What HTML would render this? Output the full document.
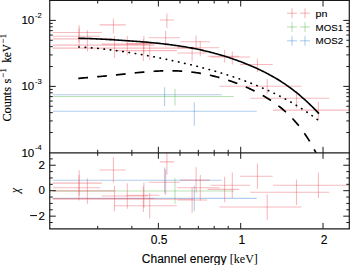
<!DOCTYPE html>
<html><head><meta charset="utf-8"><style>
html,body{margin:0;padding:0;background:#fff;}
body{width:350px;height:265px;overflow:hidden;position:relative;}
svg{position:absolute;left:0;top:0;}
.t{font-family:"Liberation Sans",sans-serif;fill:#000;stroke:#000;stroke-width:0.12px;}
.s{font-family:"Liberation Serif",serif;fill:#000;stroke:none;}
</style></head><body>
<svg width="350" height="265" viewBox="0 0 350 265">
<defs><clipPath id="ct"><rect x="49.75" y="0.5" width="299.55" height="152.3"/></clipPath><clipPath id="cb"><rect x="49.75" y="152.8" width="299.55" height="76.1"/></clipPath></defs>
<g clip-path="url(#ct)" stroke-width="1.1"><line x1="52.80" y1="94.80" x2="221.70" y2="94.80" stroke="#3c82d2" stroke-opacity="0.4"/><line x1="164.60" y1="87.20" x2="164.60" y2="106.00" stroke="#3c82d2" stroke-opacity="0.4"/><line x1="52.80" y1="96.50" x2="233.80" y2="96.50" stroke="#50b446" stroke-opacity="0.4"/><line x1="175.00" y1="89.10" x2="175.00" y2="105.50" stroke="#50b446" stroke-opacity="0.4"/><line x1="52.80" y1="111.30" x2="256.70" y2="111.30" stroke="#3c82d2" stroke-opacity="0.4"/><line x1="194.30" y1="102.30" x2="194.30" y2="125.70" stroke="#3c82d2" stroke-opacity="0.4"/><line x1="52.70" y1="32.50" x2="101.80" y2="32.50" stroke="#e8505a" stroke-opacity="0.4"/><line x1="79.20" y1="25.20" x2="79.20" y2="42.30" stroke="#e8505a" stroke-opacity="0.4"/><line x1="52.70" y1="36.30" x2="99.90" y2="36.30" stroke="#e8505a" stroke-opacity="0.4"/><line x1="79.00" y1="28.40" x2="79.00" y2="47.20" stroke="#e8505a" stroke-opacity="0.4"/><line x1="52.70" y1="38.90" x2="114.50" y2="38.90" stroke="#e8505a" stroke-opacity="0.4"/><line x1="87.40" y1="30.20" x2="87.40" y2="51.50" stroke="#e8505a" stroke-opacity="0.4"/><line x1="99.60" y1="24.90" x2="125.70" y2="24.90" stroke="#e8505a" stroke-opacity="0.4"/><line x1="113.40" y1="18.50" x2="113.40" y2="33.40" stroke="#e8505a" stroke-opacity="0.4"/><line x1="52.70" y1="45.10" x2="154.50" y2="45.10" stroke="#e8505a" stroke-opacity="0.4"/><line x1="114.50" y1="36.00" x2="114.50" y2="58.10" stroke="#e8505a" stroke-opacity="0.4"/><line x1="101.80" y1="44.10" x2="148.00" y2="44.10" stroke="#e8505a" stroke-opacity="0.4"/><line x1="127.30" y1="36.00" x2="127.30" y2="55.30" stroke="#e8505a" stroke-opacity="0.4"/><line x1="126.00" y1="43.60" x2="159.50" y2="43.60" stroke="#e8505a" stroke-opacity="0.4"/><line x1="143.90" y1="36.00" x2="143.90" y2="54.00" stroke="#e8505a" stroke-opacity="0.4"/><line x1="52.70" y1="48.10" x2="193.60" y2="48.10" stroke="#e8505a" stroke-opacity="0.4"/><line x1="143.40" y1="39.30" x2="143.40" y2="60.90" stroke="#e8505a" stroke-opacity="0.4"/><line x1="114.50" y1="50.60" x2="176.90" y2="50.60" stroke="#e8505a" stroke-opacity="0.4"/><line x1="149.70" y1="43.40" x2="149.70" y2="60.20" stroke="#e8505a" stroke-opacity="0.4"/><line x1="159.80" y1="20.00" x2="173.90" y2="20.00" stroke="#e8505a" stroke-opacity="0.4"/><line x1="166.90" y1="13.60" x2="166.90" y2="28.10" stroke="#e8505a" stroke-opacity="0.4"/><line x1="148.80" y1="37.70" x2="179.90" y2="37.70" stroke="#e8505a" stroke-opacity="0.4"/><line x1="165.60" y1="31.10" x2="165.60" y2="46.60" stroke="#e8505a" stroke-opacity="0.4"/><line x1="180.30" y1="41.70" x2="209.90" y2="41.70" stroke="#e8505a" stroke-opacity="0.4"/><line x1="196.10" y1="35.50" x2="196.10" y2="49.40" stroke="#e8505a" stroke-opacity="0.4"/><line x1="177.30" y1="47.80" x2="219.40" y2="47.80" stroke="#e8505a" stroke-opacity="0.4"/><line x1="200.30" y1="41.00" x2="200.30" y2="56.30" stroke="#e8505a" stroke-opacity="0.4"/><line x1="177.50" y1="53.00" x2="207.20" y2="53.00" stroke="#e8505a" stroke-opacity="0.4"/><line x1="192.10" y1="46.60" x2="192.10" y2="61.30" stroke="#e8505a" stroke-opacity="0.4"/><line x1="207.50" y1="56.20" x2="239.10" y2="56.20" stroke="#e8505a" stroke-opacity="0.4"/><line x1="224.60" y1="50.10" x2="224.60" y2="62.40" stroke="#e8505a" stroke-opacity="0.4"/><line x1="210.70" y1="57.00" x2="250.30" y2="57.00" stroke="#e8505a" stroke-opacity="0.4"/><line x1="232.30" y1="51.30" x2="232.30" y2="64.50" stroke="#e8505a" stroke-opacity="0.4"/><line x1="240.10" y1="64.50" x2="272.70" y2="64.50" stroke="#e8505a" stroke-opacity="0.4"/><line x1="257.40" y1="58.40" x2="257.40" y2="72.10" stroke="#e8505a" stroke-opacity="0.4"/><line x1="219.40" y1="86.20" x2="301.20" y2="86.20" stroke="#e8505a" stroke-opacity="0.4"/><line x1="267.20" y1="79.00" x2="267.20" y2="94.10" stroke="#e8505a" stroke-opacity="0.4"/><line x1="250.30" y1="98.20" x2="329.30" y2="98.20" stroke="#e8505a" stroke-opacity="0.4"/><line x1="296.50" y1="91.00" x2="296.50" y2="108.30" stroke="#e8505a" stroke-opacity="0.4"/><line x1="273.00" y1="110.10" x2="349.00" y2="110.10" stroke="#e8505a" stroke-opacity="0.4"/><line x1="318.40" y1="102.10" x2="318.40" y2="120.40" stroke="#e8505a" stroke-opacity="0.4"/></g><g clip-path="url(#cb)" stroke-width="1.1"><line x1="52.80" y1="180.30" x2="221.70" y2="180.30" stroke="#3c82d2" stroke-opacity="0.4"/><line x1="164.60" y1="167.57" x2="164.60" y2="193.03" stroke="#3c82d2" stroke-opacity="0.4"/><line x1="52.80" y1="191.00" x2="233.80" y2="191.00" stroke="#50b446" stroke-opacity="0.4"/><line x1="175.00" y1="178.27" x2="175.00" y2="203.73" stroke="#50b446" stroke-opacity="0.4"/><line x1="52.80" y1="198.40" x2="256.70" y2="198.40" stroke="#3c82d2" stroke-opacity="0.4"/><line x1="194.30" y1="185.67" x2="194.30" y2="211.13" stroke="#3c82d2" stroke-opacity="0.4"/><line x1="52.70" y1="183.10" x2="101.80" y2="183.10" stroke="#e8505a" stroke-opacity="0.4"/><line x1="79.20" y1="170.37" x2="79.20" y2="195.83" stroke="#e8505a" stroke-opacity="0.4"/><line x1="52.70" y1="187.80" x2="99.90" y2="187.80" stroke="#e8505a" stroke-opacity="0.4"/><line x1="79.00" y1="175.07" x2="79.00" y2="200.53" stroke="#e8505a" stroke-opacity="0.4"/><line x1="52.70" y1="190.90" x2="114.50" y2="190.90" stroke="#e8505a" stroke-opacity="0.4"/><line x1="87.40" y1="178.17" x2="87.40" y2="203.63" stroke="#e8505a" stroke-opacity="0.4"/><line x1="99.60" y1="170.00" x2="125.70" y2="170.00" stroke="#e8505a" stroke-opacity="0.4"/><line x1="113.40" y1="157.27" x2="113.40" y2="182.73" stroke="#e8505a" stroke-opacity="0.4"/><line x1="52.70" y1="198.50" x2="154.50" y2="198.50" stroke="#e8505a" stroke-opacity="0.4"/><line x1="114.50" y1="185.77" x2="114.50" y2="211.23" stroke="#e8505a" stroke-opacity="0.4"/><line x1="101.80" y1="196.00" x2="148.00" y2="196.00" stroke="#e8505a" stroke-opacity="0.4"/><line x1="127.30" y1="183.27" x2="127.30" y2="208.73" stroke="#e8505a" stroke-opacity="0.4"/><line x1="126.00" y1="195.30" x2="159.50" y2="195.30" stroke="#e8505a" stroke-opacity="0.4"/><line x1="143.90" y1="182.57" x2="143.90" y2="208.03" stroke="#e8505a" stroke-opacity="0.4"/><line x1="52.70" y1="199.20" x2="193.60" y2="199.20" stroke="#e8505a" stroke-opacity="0.4"/><line x1="143.40" y1="186.47" x2="143.40" y2="211.93" stroke="#e8505a" stroke-opacity="0.4"/><line x1="114.50" y1="205.70" x2="176.90" y2="205.70" stroke="#e8505a" stroke-opacity="0.4"/><line x1="149.70" y1="192.97" x2="149.70" y2="218.43" stroke="#e8505a" stroke-opacity="0.4"/><line x1="159.80" y1="161.90" x2="173.90" y2="161.90" stroke="#e8505a" stroke-opacity="0.4"/><line x1="166.90" y1="149.17" x2="166.90" y2="174.63" stroke="#e8505a" stroke-opacity="0.4"/><line x1="148.80" y1="182.30" x2="179.90" y2="182.30" stroke="#e8505a" stroke-opacity="0.4"/><line x1="165.60" y1="169.57" x2="165.60" y2="195.03" stroke="#e8505a" stroke-opacity="0.4"/><line x1="180.30" y1="180.10" x2="209.90" y2="180.10" stroke="#e8505a" stroke-opacity="0.4"/><line x1="196.10" y1="167.37" x2="196.10" y2="192.83" stroke="#e8505a" stroke-opacity="0.4"/><line x1="177.30" y1="187.80" x2="219.40" y2="187.80" stroke="#e8505a" stroke-opacity="0.4"/><line x1="200.30" y1="175.07" x2="200.30" y2="200.53" stroke="#e8505a" stroke-opacity="0.4"/><line x1="177.50" y1="200.00" x2="207.20" y2="200.00" stroke="#e8505a" stroke-opacity="0.4"/><line x1="192.10" y1="187.27" x2="192.10" y2="212.73" stroke="#e8505a" stroke-opacity="0.4"/><line x1="207.50" y1="189.40" x2="239.10" y2="189.40" stroke="#e8505a" stroke-opacity="0.4"/><line x1="224.60" y1="176.67" x2="224.60" y2="202.13" stroke="#e8505a" stroke-opacity="0.4"/><line x1="210.70" y1="185.20" x2="250.30" y2="185.20" stroke="#e8505a" stroke-opacity="0.4"/><line x1="232.30" y1="172.47" x2="232.30" y2="197.93" stroke="#e8505a" stroke-opacity="0.4"/><line x1="240.10" y1="176.30" x2="272.70" y2="176.30" stroke="#e8505a" stroke-opacity="0.4"/><line x1="257.40" y1="163.57" x2="257.40" y2="189.03" stroke="#e8505a" stroke-opacity="0.4"/><line x1="219.40" y1="207.00" x2="301.20" y2="207.00" stroke="#e8505a" stroke-opacity="0.4"/><line x1="267.20" y1="194.27" x2="267.20" y2="219.73" stroke="#e8505a" stroke-opacity="0.4"/><line x1="250.30" y1="192.20" x2="329.30" y2="192.20" stroke="#e8505a" stroke-opacity="0.4"/><line x1="296.50" y1="179.47" x2="296.50" y2="204.93" stroke="#e8505a" stroke-opacity="0.4"/><line x1="273.00" y1="185.30" x2="349.00" y2="185.30" stroke="#e8505a" stroke-opacity="0.4"/><line x1="318.40" y1="172.57" x2="318.40" y2="198.03" stroke="#e8505a" stroke-opacity="0.4"/></g>
<g clip-path="url(#ct)"><path d="M78.30,38.31 L79.51,38.32 L80.72,38.34 L81.93,38.36 L83.14,38.39 L84.35,38.42 L85.56,38.45 L86.77,38.48 L87.98,38.52 L89.19,38.56 L90.40,38.60 L91.61,38.65 L92.81,38.71 L94.02,38.76 L95.23,38.81 L96.44,38.87 L97.65,38.93 L98.86,38.99 L100.07,39.05 L101.28,39.12 L102.49,39.18 L103.70,39.25 L104.91,39.32 L106.12,39.39 L107.33,39.46 L108.54,39.53 L109.75,39.60 L110.96,39.67 L112.17,39.74 L113.38,39.82 L114.59,39.89 L115.80,39.97 L117.01,40.05 L118.22,40.12 L119.42,40.20 L120.63,40.28 L121.84,40.36 L123.05,40.44 L124.26,40.52 L125.47,40.60 L126.68,40.69 L127.89,40.77 L129.10,40.86 L130.31,40.94 L131.52,41.03 L132.73,41.12 L133.94,41.21 L135.15,41.30 L136.36,41.39 L137.57,41.48 L138.78,41.57 L139.99,41.67 L141.20,41.76 L142.41,41.86 L143.62,41.96 L144.83,42.06 L146.03,42.16 L147.24,42.27 L148.45,42.37 L149.66,42.48 L150.87,42.59 L152.08,42.70 L153.29,42.82 L154.50,42.93 L155.71,43.05 L156.92,43.17 L158.13,43.30 L159.34,43.42 L160.55,43.55 L161.76,43.68 L162.97,43.82 L164.18,43.96 L165.39,44.10 L166.60,44.24 L167.81,44.39 L169.02,44.54 L170.23,44.69 L171.44,44.85 L172.64,45.01 L173.85,45.18 L175.06,45.35 L176.27,45.52 L177.48,45.70 L178.69,45.88 L179.90,46.06 L181.11,46.25 L182.32,46.44 L183.53,46.63 L184.74,46.83 L185.95,47.03 L187.16,47.24 L188.37,47.45 L189.58,47.67 L190.79,47.89 L192.00,48.12 L193.21,48.35 L194.42,48.59 L195.63,48.83 L196.84,49.07 L198.05,49.32 L199.25,49.58 L200.46,49.84 L201.67,50.11 L202.88,50.38 L204.09,50.66 L205.30,50.94 L206.51,51.23 L207.72,51.52 L208.93,51.82 L210.14,52.13 L211.35,52.44 L212.56,52.75 L213.77,53.07 L214.98,53.40 L216.19,53.73 L217.40,54.07 L218.61,54.41 L219.82,54.76 L221.03,55.11 L222.24,55.47 L223.45,55.84 L224.66,56.21 L225.86,56.59 L227.07,56.97 L228.28,57.36 L229.49,57.76 L230.70,58.16 L231.91,58.57 L233.12,58.98 L234.33,59.40 L235.54,59.82 L236.75,60.26 L237.96,60.69 L239.17,61.14 L240.38,61.59 L241.59,62.05 L242.80,62.51 L244.01,62.98 L245.22,63.46 L246.43,63.94 L247.64,64.44 L248.85,64.94 L250.06,65.44 L251.27,65.96 L252.47,66.48 L253.68,67.01 L254.89,67.54 L256.10,68.09 L257.31,68.64 L258.52,69.21 L259.73,69.78 L260.94,70.36 L262.15,70.95 L263.36,71.54 L264.57,72.15 L265.78,72.77 L266.99,73.40 L268.20,74.04 L269.41,74.68 L270.62,75.34 L271.83,76.01 L273.04,76.70 L274.25,77.39 L275.46,78.10 L276.67,78.81 L277.88,79.55 L279.08,80.29 L280.29,81.05 L281.50,81.82 L282.71,82.60 L283.92,83.40 L285.13,84.21 L286.34,85.04 L287.55,85.88 L288.76,86.74 L289.97,87.62 L291.18,88.51 L292.39,89.42 L293.60,90.34 L294.81,91.28 L296.02,92.24 L297.23,93.21 L298.44,94.20 L299.65,95.21 L300.86,96.24 L302.07,97.28 L303.28,98.34 L304.49,99.42 L305.69,100.52 L306.90,101.63 L308.11,102.76 L309.32,103.91 L310.53,105.07 L311.74,106.25 L312.95,107.44 L314.16,108.65 L315.37,109.87 L316.58,111.11 L317.79,112.36 L319.00,113.62" fill="none" stroke="#000" stroke-width="1.6"/><path d="M78.30,46.97 L79.51,47.03 L80.72,47.09 L81.93,47.16 L83.14,47.23 L84.35,47.31 L85.56,47.38 L86.77,47.47 L87.98,47.55 L89.19,47.64 L90.40,47.74 L91.61,47.84 L92.81,47.95 L94.02,48.06 L95.23,48.17 L96.44,48.29 L97.65,48.41 L98.86,48.53 L100.07,48.66 L101.28,48.79 L102.49,48.92 L103.70,49.06 L104.91,49.19 L106.12,49.33 L107.33,49.48 L108.54,49.62 L109.75,49.77 L110.96,49.92 L112.17,50.08 L113.38,50.24 L114.59,50.40 L115.80,50.56 L117.01,50.72 L118.22,50.89 L119.42,51.06 L120.63,51.23 L121.84,51.40 L123.05,51.58 L124.26,51.76 L125.47,51.94 L126.68,52.12 L127.89,52.31 L129.10,52.50 L130.31,52.69 L131.52,52.88 L132.73,53.07 L133.94,53.27 L135.15,53.47 L136.36,53.67 L137.57,53.87 L138.78,54.08 L139.99,54.29 L141.20,54.50 L142.41,54.71 L143.62,54.92 L144.83,55.14 L146.03,55.36 L147.24,55.57 L148.45,55.80 L149.66,56.02 L150.87,56.25 L152.08,56.47 L153.29,56.70 L154.50,56.94 L155.71,57.17 L156.92,57.41 L158.13,57.64 L159.34,57.88 L160.55,58.13 L161.76,58.37 L162.97,58.62 L164.18,58.87 L165.39,59.12 L166.60,59.37 L167.81,59.62 L169.02,59.88 L170.23,60.14 L171.44,60.40 L172.64,60.66 L173.85,60.93 L175.06,61.19 L176.27,61.46 L177.48,61.74 L178.69,62.01 L179.90,62.29 L181.11,62.56 L182.32,62.83 L183.53,63.10 L184.74,63.38 L185.95,63.66 L187.16,63.94 L188.37,64.23 L189.58,64.51 L190.79,64.80 L192.00,65.09 L193.21,65.39 L194.42,65.69 L195.63,65.99 L196.84,66.29 L198.05,66.59 L199.25,66.90 L200.46,67.21 L201.67,67.52 L202.88,67.84 L204.09,68.16 L205.30,68.48 L206.51,68.80 L207.72,69.13 L208.93,69.46 L210.14,69.79 L211.35,70.13 L212.56,70.47 L213.77,70.81 L214.98,71.16 L216.19,71.51 L217.40,71.86 L218.61,72.22 L219.82,72.58 L221.03,72.94 L222.24,73.31 L223.45,73.68 L224.66,74.05 L225.86,74.43 L227.07,74.81 L228.28,75.19 L229.49,75.58 L230.70,75.98 L231.91,76.37 L233.12,76.77 L234.33,77.18 L235.54,77.59 L236.75,78.00 L237.96,78.42 L239.17,78.84 L240.38,79.27 L241.59,79.70 L242.80,80.14 L244.01,80.58 L245.22,81.02 L246.43,81.47 L247.64,81.93 L248.85,82.39 L250.06,82.86 L251.27,83.33 L252.47,83.80 L253.68,84.28 L254.89,84.77 L256.10,85.26 L257.31,85.76 L258.52,86.26 L259.73,86.77 L260.94,87.28 L262.15,87.80 L263.36,88.33 L264.57,88.86 L265.78,89.40 L266.99,89.95 L268.20,90.50 L269.41,91.06 L270.62,91.62 L271.83,92.19 L273.04,92.77 L274.25,93.35 L275.46,93.94 L276.67,94.54 L277.88,95.15 L279.08,95.76 L280.29,96.38 L281.50,97.00 L282.71,97.64 L283.92,98.28 L285.13,98.93 L286.34,99.59 L287.55,100.25 L288.76,100.93 L289.97,101.61 L291.18,102.30 L292.39,103.00 L293.60,103.70 L294.81,104.42 L296.02,105.14 L297.23,105.88 L298.44,106.62 L299.65,107.37 L300.86,108.13 L302.07,108.90 L303.28,109.68 L304.49,110.46 L305.69,111.26 L306.90,112.07 L308.11,112.89 L309.32,113.71 L310.53,114.55 L311.74,115.40 L312.95,116.26 L314.16,117.13 L315.37,118.01 L316.58,118.90 L317.79,119.80 L319.00,120.71" fill="none" stroke="#000" stroke-width="1.65" stroke-linecap="round" stroke-dasharray="0.45 5.85" stroke-dashoffset="-0.6"/><path d="M78.30,78.40 L79.51,78.28 L80.72,78.17 L81.93,78.05 L83.14,77.94 L84.35,77.84 L85.56,77.73 L86.77,77.63 L87.98,77.53 L89.19,77.42 L90.40,77.32 L91.61,77.22 L92.81,77.12 L94.02,77.02 L95.23,76.91 L96.44,76.81 L97.65,76.71 L98.86,76.60 L100.07,76.49 L101.28,76.38 L102.49,76.27 L103.70,76.16 L104.91,76.05 L106.12,75.93 L107.33,75.82 L108.54,75.70 L109.75,75.58 L110.96,75.46 L112.17,75.34 L113.38,75.21 L114.59,75.09 L115.80,74.96 L117.01,74.83 L118.22,74.71 L119.42,74.58 L120.63,74.45 L121.84,74.31 L123.05,74.18 L124.26,74.05 L125.47,73.92 L126.68,73.79 L127.89,73.66 L129.10,73.53 L130.31,73.40 L131.52,73.27 L132.73,73.14 L133.94,73.01 L135.15,72.88 L136.36,72.76 L137.57,72.64 L138.78,72.52 L139.99,72.40 L141.20,72.28 L142.41,72.17 L143.62,72.06 L144.83,71.95 L146.03,71.85 L147.24,71.75 L148.45,71.65 L149.66,71.56 L150.87,71.47 L152.08,71.39 L153.29,71.31 L154.50,71.23 L155.71,71.16 L156.92,71.10 L158.13,71.04 L159.34,70.98 L160.55,70.93 L161.76,70.89 L162.97,70.85 L164.18,70.82 L165.39,70.80 L166.60,70.78 L167.81,70.77 L169.02,70.77 L170.23,70.77 L171.44,70.78 L172.64,70.79 L173.85,70.82 L175.06,70.85 L176.27,70.89 L177.48,70.93 L178.69,70.99 L179.90,71.05 L181.11,71.12 L182.32,71.19 L183.53,71.28 L184.74,71.37 L185.95,71.47 L187.16,71.58 L188.37,71.70 L189.58,71.83 L190.79,71.96 L192.00,72.10 L193.21,72.25 L194.42,72.41 L195.63,72.58 L196.84,72.76 L198.05,72.94 L199.25,73.14 L200.46,73.34 L201.67,73.55 L202.88,73.77 L204.09,73.99 L205.30,74.23 L206.51,74.47 L207.72,74.72 L208.93,74.98 L210.14,75.25 L211.35,75.53 L212.56,75.82 L213.77,76.11 L214.98,76.41 L216.19,76.73 L217.40,77.04 L218.61,77.37 L219.82,77.71 L221.03,78.05 L222.24,78.40 L223.45,78.77 L224.66,79.13 L225.86,79.51 L227.07,79.90 L228.28,80.29 L229.49,80.69 L230.70,81.11 L231.91,81.52 L233.12,81.95 L234.33,82.39 L235.54,82.83 L236.75,83.29 L237.96,83.75 L239.17,84.22 L240.38,84.70 L241.59,85.19 L242.80,85.69 L244.01,86.20 L245.22,86.71 L246.43,87.24 L247.64,87.78 L248.85,88.32 L250.06,88.88 L251.27,89.45 L252.47,90.03 L253.68,90.62 L254.89,91.22 L256.10,91.83 L257.31,92.46 L258.52,93.09 L259.73,93.74 L260.94,94.41 L262.15,95.09 L263.36,95.78 L264.57,96.48 L265.78,97.20 L266.99,97.94 L268.20,98.69 L269.41,99.46 L270.62,100.25 L271.83,101.06 L273.04,101.88 L274.25,102.73 L275.46,103.60 L276.67,104.48 L277.88,105.39 L279.08,106.32 L280.29,107.28 L281.50,108.26 L282.71,109.27 L283.92,110.31 L285.13,111.37 L286.34,112.46 L287.55,113.59 L288.76,114.75 L289.97,115.94 L291.18,117.16 L292.39,118.42 L293.60,119.72 L294.81,121.06 L296.02,122.44 L297.23,123.86 L298.44,125.32 L299.65,126.84 L300.86,128.40 L302.07,130.01 L303.28,131.67 L304.49,133.38 L305.69,135.15 L306.90,136.98 L308.11,138.87 L309.32,140.82 L310.53,142.84 L311.74,144.92 L312.95,147.08 L314.16,149.30 L315.37,151.61 L316.58,153.99 L317.79,156.45 L319.00,158.99" fill="none" stroke="#000" stroke-width="1.7" stroke-dasharray="9.75 9.15"/></g>
<line x1="49.15" y1="0.50" x2="349.90" y2="0.50" stroke="#1a1a1a" stroke-width="1.2"/><line x1="49.15" y1="152.80" x2="349.90" y2="152.80" stroke="#1a1a1a" stroke-width="1.2"/><line x1="49.15" y1="228.90" x2="349.90" y2="228.90" stroke="#1a1a1a" stroke-width="1.2"/><line x1="49.75" y1="0.50" x2="49.75" y2="228.90" stroke="#1a1a1a" stroke-width="1.2"/><line x1="349.30" y1="0.50" x2="349.30" y2="228.90" stroke="#1a1a1a" stroke-width="1.2"/><line x1="158.37" y1="0.50" x2="158.37" y2="6.50" stroke="#1a1a1a" stroke-width="1.0"/><line x1="158.37" y1="152.80" x2="158.37" y2="146.80" stroke="#1a1a1a" stroke-width="1.0"/><line x1="158.37" y1="152.80" x2="158.37" y2="158.80" stroke="#1a1a1a" stroke-width="1.0"/><line x1="158.37" y1="228.90" x2="158.37" y2="222.90" stroke="#1a1a1a" stroke-width="1.0"/><line x1="240.70" y1="0.50" x2="240.70" y2="6.50" stroke="#1a1a1a" stroke-width="1.0"/><line x1="240.70" y1="152.80" x2="240.70" y2="146.80" stroke="#1a1a1a" stroke-width="1.0"/><line x1="240.70" y1="152.80" x2="240.70" y2="158.80" stroke="#1a1a1a" stroke-width="1.0"/><line x1="240.70" y1="228.90" x2="240.70" y2="222.90" stroke="#1a1a1a" stroke-width="1.0"/><line x1="323.03" y1="0.50" x2="323.03" y2="6.50" stroke="#1a1a1a" stroke-width="1.0"/><line x1="323.03" y1="152.80" x2="323.03" y2="146.80" stroke="#1a1a1a" stroke-width="1.0"/><line x1="323.03" y1="152.80" x2="323.03" y2="158.80" stroke="#1a1a1a" stroke-width="1.0"/><line x1="323.03" y1="228.90" x2="323.03" y2="222.90" stroke="#1a1a1a" stroke-width="1.0"/><line x1="97.69" y1="0.50" x2="97.69" y2="3.50" stroke="#1a1a1a" stroke-width="1.0"/><line x1="97.69" y1="152.80" x2="97.69" y2="149.80" stroke="#1a1a1a" stroke-width="1.0"/><line x1="97.69" y1="152.80" x2="97.69" y2="155.80" stroke="#1a1a1a" stroke-width="1.0"/><line x1="97.69" y1="228.90" x2="97.69" y2="225.90" stroke="#1a1a1a" stroke-width="1.0"/><line x1="131.86" y1="0.50" x2="131.86" y2="3.50" stroke="#1a1a1a" stroke-width="1.0"/><line x1="131.86" y1="152.80" x2="131.86" y2="149.80" stroke="#1a1a1a" stroke-width="1.0"/><line x1="131.86" y1="152.80" x2="131.86" y2="155.80" stroke="#1a1a1a" stroke-width="1.0"/><line x1="131.86" y1="228.90" x2="131.86" y2="225.90" stroke="#1a1a1a" stroke-width="1.0"/><line x1="180.02" y1="0.50" x2="180.02" y2="3.50" stroke="#1a1a1a" stroke-width="1.0"/><line x1="180.02" y1="152.80" x2="180.02" y2="149.80" stroke="#1a1a1a" stroke-width="1.0"/><line x1="180.02" y1="152.80" x2="180.02" y2="155.80" stroke="#1a1a1a" stroke-width="1.0"/><line x1="180.02" y1="228.90" x2="180.02" y2="225.90" stroke="#1a1a1a" stroke-width="1.0"/><line x1="198.33" y1="0.50" x2="198.33" y2="3.50" stroke="#1a1a1a" stroke-width="1.0"/><line x1="198.33" y1="152.80" x2="198.33" y2="149.80" stroke="#1a1a1a" stroke-width="1.0"/><line x1="198.33" y1="152.80" x2="198.33" y2="155.80" stroke="#1a1a1a" stroke-width="1.0"/><line x1="198.33" y1="228.90" x2="198.33" y2="225.90" stroke="#1a1a1a" stroke-width="1.0"/><line x1="214.20" y1="0.50" x2="214.20" y2="3.50" stroke="#1a1a1a" stroke-width="1.0"/><line x1="214.20" y1="152.80" x2="214.20" y2="149.80" stroke="#1a1a1a" stroke-width="1.0"/><line x1="214.20" y1="152.80" x2="214.20" y2="155.80" stroke="#1a1a1a" stroke-width="1.0"/><line x1="214.20" y1="228.90" x2="214.20" y2="225.90" stroke="#1a1a1a" stroke-width="1.0"/><line x1="228.19" y1="0.50" x2="228.19" y2="3.50" stroke="#1a1a1a" stroke-width="1.0"/><line x1="228.19" y1="152.80" x2="228.19" y2="149.80" stroke="#1a1a1a" stroke-width="1.0"/><line x1="228.19" y1="152.80" x2="228.19" y2="155.80" stroke="#1a1a1a" stroke-width="1.0"/><line x1="228.19" y1="228.90" x2="228.19" y2="225.90" stroke="#1a1a1a" stroke-width="1.0"/><line x1="49.75" y1="132.53" x2="52.75" y2="132.53" stroke="#1a1a1a" stroke-width="1.0"/><line x1="349.30" y1="132.53" x2="346.30" y2="132.53" stroke="#1a1a1a" stroke-width="1.0"/><line x1="49.75" y1="120.91" x2="52.75" y2="120.91" stroke="#1a1a1a" stroke-width="1.0"/><line x1="349.30" y1="120.91" x2="346.30" y2="120.91" stroke="#1a1a1a" stroke-width="1.0"/><line x1="49.75" y1="112.66" x2="52.75" y2="112.66" stroke="#1a1a1a" stroke-width="1.0"/><line x1="349.30" y1="112.66" x2="346.30" y2="112.66" stroke="#1a1a1a" stroke-width="1.0"/><line x1="49.75" y1="106.27" x2="52.75" y2="106.27" stroke="#1a1a1a" stroke-width="1.0"/><line x1="349.30" y1="106.27" x2="346.30" y2="106.27" stroke="#1a1a1a" stroke-width="1.0"/><line x1="49.75" y1="101.04" x2="52.75" y2="101.04" stroke="#1a1a1a" stroke-width="1.0"/><line x1="349.30" y1="101.04" x2="346.30" y2="101.04" stroke="#1a1a1a" stroke-width="1.0"/><line x1="49.75" y1="96.62" x2="52.75" y2="96.62" stroke="#1a1a1a" stroke-width="1.0"/><line x1="349.30" y1="96.62" x2="346.30" y2="96.62" stroke="#1a1a1a" stroke-width="1.0"/><line x1="49.75" y1="92.80" x2="52.75" y2="92.80" stroke="#1a1a1a" stroke-width="1.0"/><line x1="349.30" y1="92.80" x2="346.30" y2="92.80" stroke="#1a1a1a" stroke-width="1.0"/><line x1="49.75" y1="89.42" x2="52.75" y2="89.42" stroke="#1a1a1a" stroke-width="1.0"/><line x1="349.30" y1="89.42" x2="346.30" y2="89.42" stroke="#1a1a1a" stroke-width="1.0"/><line x1="49.75" y1="86.40" x2="55.75" y2="86.40" stroke="#1a1a1a" stroke-width="1.0"/><line x1="349.30" y1="86.40" x2="343.30" y2="86.40" stroke="#1a1a1a" stroke-width="1.0"/><line x1="49.75" y1="66.53" x2="52.75" y2="66.53" stroke="#1a1a1a" stroke-width="1.0"/><line x1="349.30" y1="66.53" x2="346.30" y2="66.53" stroke="#1a1a1a" stroke-width="1.0"/><line x1="49.75" y1="54.91" x2="52.75" y2="54.91" stroke="#1a1a1a" stroke-width="1.0"/><line x1="349.30" y1="54.91" x2="346.30" y2="54.91" stroke="#1a1a1a" stroke-width="1.0"/><line x1="49.75" y1="46.66" x2="52.75" y2="46.66" stroke="#1a1a1a" stroke-width="1.0"/><line x1="349.30" y1="46.66" x2="346.30" y2="46.66" stroke="#1a1a1a" stroke-width="1.0"/><line x1="49.75" y1="40.27" x2="52.75" y2="40.27" stroke="#1a1a1a" stroke-width="1.0"/><line x1="349.30" y1="40.27" x2="346.30" y2="40.27" stroke="#1a1a1a" stroke-width="1.0"/><line x1="49.75" y1="35.04" x2="52.75" y2="35.04" stroke="#1a1a1a" stroke-width="1.0"/><line x1="349.30" y1="35.04" x2="346.30" y2="35.04" stroke="#1a1a1a" stroke-width="1.0"/><line x1="49.75" y1="30.62" x2="52.75" y2="30.62" stroke="#1a1a1a" stroke-width="1.0"/><line x1="349.30" y1="30.62" x2="346.30" y2="30.62" stroke="#1a1a1a" stroke-width="1.0"/><line x1="49.75" y1="26.80" x2="52.75" y2="26.80" stroke="#1a1a1a" stroke-width="1.0"/><line x1="349.30" y1="26.80" x2="346.30" y2="26.80" stroke="#1a1a1a" stroke-width="1.0"/><line x1="49.75" y1="23.42" x2="52.75" y2="23.42" stroke="#1a1a1a" stroke-width="1.0"/><line x1="349.30" y1="23.42" x2="346.30" y2="23.42" stroke="#1a1a1a" stroke-width="1.0"/><line x1="49.75" y1="20.40" x2="55.75" y2="20.40" stroke="#1a1a1a" stroke-width="1.0"/><line x1="349.30" y1="20.40" x2="343.30" y2="20.40" stroke="#1a1a1a" stroke-width="1.0"/><line x1="49.75" y1="222.52" x2="52.75" y2="222.52" stroke="#1a1a1a" stroke-width="1.0"/><line x1="349.30" y1="222.52" x2="346.30" y2="222.52" stroke="#1a1a1a" stroke-width="1.0"/><line x1="49.75" y1="216.16" x2="55.75" y2="216.16" stroke="#1a1a1a" stroke-width="1.0"/><line x1="349.30" y1="216.16" x2="343.30" y2="216.16" stroke="#1a1a1a" stroke-width="1.0"/><line x1="49.75" y1="209.79" x2="52.75" y2="209.79" stroke="#1a1a1a" stroke-width="1.0"/><line x1="349.30" y1="209.79" x2="346.30" y2="209.79" stroke="#1a1a1a" stroke-width="1.0"/><line x1="49.75" y1="203.43" x2="52.75" y2="203.43" stroke="#1a1a1a" stroke-width="1.0"/><line x1="349.30" y1="203.43" x2="346.30" y2="203.43" stroke="#1a1a1a" stroke-width="1.0"/><line x1="49.75" y1="197.06" x2="52.75" y2="197.06" stroke="#1a1a1a" stroke-width="1.0"/><line x1="349.30" y1="197.06" x2="346.30" y2="197.06" stroke="#1a1a1a" stroke-width="1.0"/><line x1="49.75" y1="190.70" x2="55.75" y2="190.70" stroke="#1a1a1a" stroke-width="1.0"/><line x1="349.30" y1="190.70" x2="343.30" y2="190.70" stroke="#1a1a1a" stroke-width="1.0"/><line x1="49.75" y1="184.33" x2="52.75" y2="184.33" stroke="#1a1a1a" stroke-width="1.0"/><line x1="349.30" y1="184.33" x2="346.30" y2="184.33" stroke="#1a1a1a" stroke-width="1.0"/><line x1="49.75" y1="177.97" x2="52.75" y2="177.97" stroke="#1a1a1a" stroke-width="1.0"/><line x1="349.30" y1="177.97" x2="346.30" y2="177.97" stroke="#1a1a1a" stroke-width="1.0"/><line x1="49.75" y1="171.60" x2="52.75" y2="171.60" stroke="#1a1a1a" stroke-width="1.0"/><line x1="349.30" y1="171.60" x2="346.30" y2="171.60" stroke="#1a1a1a" stroke-width="1.0"/><line x1="49.75" y1="165.24" x2="55.75" y2="165.24" stroke="#1a1a1a" stroke-width="1.0"/><line x1="349.30" y1="165.24" x2="343.30" y2="165.24" stroke="#1a1a1a" stroke-width="1.0"/><line x1="49.75" y1="158.88" x2="52.75" y2="158.88" stroke="#1a1a1a" stroke-width="1.0"/><line x1="349.30" y1="158.88" x2="346.30" y2="158.88" stroke="#1a1a1a" stroke-width="1.0"/>
<line x1="287.00" y1="13.20" x2="297.00" y2="13.20" stroke="#e8505a" stroke-opacity="0.4" stroke-width="1.1"/><line x1="292.00" y1="8.20" x2="292.00" y2="18.20" stroke="#e8505a" stroke-opacity="0.4" stroke-width="1.1"/><line x1="300.00" y1="13.20" x2="310.00" y2="13.20" stroke="#e8505a" stroke-opacity="0.4" stroke-width="1.1"/><line x1="305.00" y1="8.20" x2="305.00" y2="18.20" stroke="#e8505a" stroke-opacity="0.4" stroke-width="1.1"/><line x1="287.00" y1="27.00" x2="297.00" y2="27.00" stroke="#50b446" stroke-opacity="0.4" stroke-width="1.1"/><line x1="292.00" y1="22.00" x2="292.00" y2="32.00" stroke="#50b446" stroke-opacity="0.4" stroke-width="1.1"/><line x1="300.00" y1="27.00" x2="310.00" y2="27.00" stroke="#50b446" stroke-opacity="0.4" stroke-width="1.1"/><line x1="305.00" y1="22.00" x2="305.00" y2="32.00" stroke="#50b446" stroke-opacity="0.4" stroke-width="1.1"/><line x1="287.00" y1="40.80" x2="297.00" y2="40.80" stroke="#3c82d2" stroke-opacity="0.4" stroke-width="1.1"/><line x1="292.00" y1="35.80" x2="292.00" y2="45.80" stroke="#3c82d2" stroke-opacity="0.4" stroke-width="1.1"/><line x1="300.00" y1="40.80" x2="310.00" y2="40.80" stroke="#3c82d2" stroke-opacity="0.4" stroke-width="1.1"/><line x1="305.00" y1="35.80" x2="305.00" y2="45.80" stroke="#3c82d2" stroke-opacity="0.4" stroke-width="1.1"/>
<g class="t" font-size="11.6">
<text x="34.3" y="24.4" text-anchor="end">10</text>
<text x="34.3" y="90.4" text-anchor="end">10</text>
<text x="34.3" y="156.5" text-anchor="end">10</text>
</g>
<g class="t" font-size="7.5">
<text x="35" y="18">-2</text>
<text x="35" y="84">-3</text>
<text x="35" y="150">-4</text>
</g>
<g class="t" font-size="11.6" text-anchor="end">
<text x="45" y="168.8">2</text>
<text x="45" y="194.1">0</text>
<text x="45" y="219.5">2</text>
</g>
<line x1="30.2" y1="215.6" x2="37.0" y2="215.6" stroke="#000" stroke-width="1.0"/>
<g class="t" font-size="12" text-anchor="middle">
<text x="159.2" y="243.9">0.5</text>
<text x="241.8" y="243.9">1</text>
<text x="324.2" y="243.9">2</text>
</g>
<text class="t" x="141.8" y="262.5" font-size="12">Channel energy <tspan class="s" font-size="12">[keV]</tspan></text>
<g class="t" font-size="9.7">
<text transform="translate(315.6,16.9) scale(1.1,1)">pn</text>
<text x="315.6" y="30.5">MOS1</text>
<text x="315.6" y="44.1">MOS2</text>
</g>
<g font-family="Liberation Serif" transform="rotate(-90)" stroke="#000" stroke-width="0.15">
<text font-size="12.4" x="-121.6" y="11.4" textLength="34.6" lengthAdjust="spacingAndGlyphs">Counts</text>
<text font-size="12.2" x="-83.6" y="11.4">s</text>
<text font-size="8.6" x="-77.4" y="6.2">−1</text>
<text font-size="12.4" x="-62.8" y="11.4" textLength="18.8" lengthAdjust="spacingAndGlyphs">keV</text>
<text font-size="8.6" x="-43.2" y="6.2">−1</text>
<text font-size="11.5" font-style="italic" x="-193" y="19">χ</text>
</g>
</svg>
</body></html>
